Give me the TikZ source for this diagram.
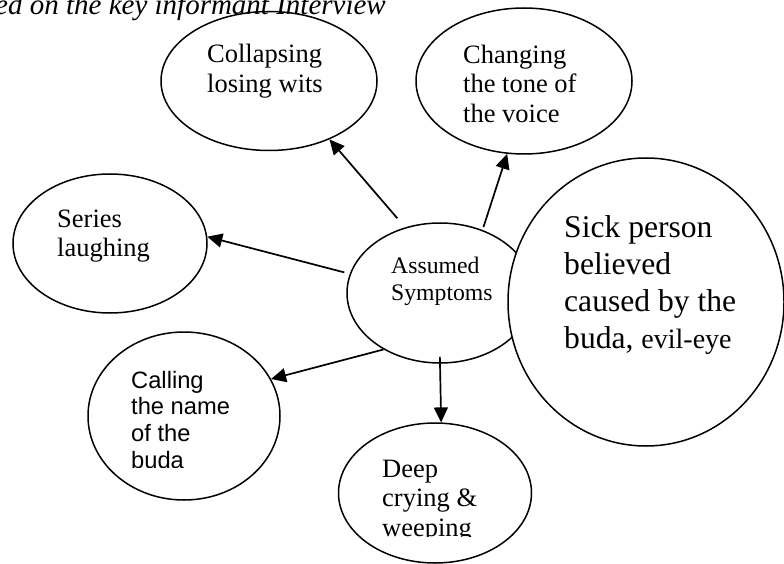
\documentclass[tikz,border=0pt]{standalone}
\usepackage{fontspec}
\setmainfont{Liberation Serif}
\newfontfamily\arialfont{Liberation Sans}
\usetikzlibrary{shapes.geometric,arrows.meta}
\newcommand{\tlines}[1]{\begin{tabular}[t]{@{}l@{}}#1\end{tabular}}
\begin{document}
\begin{tikzpicture}[x=1pt,y=-1pt,
  bubble/.style={ellipse,draw,line width=1.5pt,inner sep=0pt,fill=white},
  conn/.style={line width=1.7pt,-{Triangle[length=15pt,width=14pt]}},
  txt/.style={anchor=base west,inner sep=0pt},
  body/.style={font=\fontsize{26.5}{29.5}\selectfont},
]
\useasboundingbox (0,0) rectangle (784,564);
% ellipses
\node[bubble,minimum width=216pt,minimum height=139pt] (collapse) at (269,81) {};
\node[bubble,minimum width=216pt,minimum height=146pt] (change) at (524,81) {};
\node[bubble,minimum width=194pt,minimum height=139pt] (series) at (110,243.5) {};
\node[bubble,minimum width=186pt,minimum height=140pt] (assumed) at (440,293) {};
\node[bubble,minimum width=192pt,minimum height=168pt] (calling) at (184,416) {};
\node[bubble,minimum width=193pt,minimum height=140pt] (deep) at (435,493) {};
% connectors
\draw[conn,shorten <=12pt] (assumed.118.5) -- (collapse.-44.5);
\draw[conn,shorten <=3pt] (assumed.56) -- (change.257);
\draw[conn,shorten <=5.6pt] (assumed.168.3) -- (series.4.7);
\draw[conn] (assumed.225) -- (calling.23.5);
\draw[conn,shorten <=-7pt] (assumed.south) -- (deep.85.7);
% big circle
\node[bubble,minimum width=276pt,minimum height=288pt] (sick) at (646,302) {};
% title
\node[txt,font=\itshape\fontsize{29}{32}\selectfont] (title) at (-5,15) {ed on the key informant Interview};
% texts
\node[txt,body] (tcollapse) at (207,63) {\tlines{Collapsing\\losing wits}};
\node[txt,body] (tchange) at (463,63.5) {\tlines{Changing\\the tone of\\the voice}};
\node[txt,body] (tseries) at (57,227) {\tlines{Series\\laughing}};
\node[txt,font=\fontsize{23.7}{27}\selectfont] (tassumed) at (391,273) {\tlines{Assumed\\Symptoms}};
\node[txt,font=\fontsize{31.6}{37}\selectfont] (tsick) at (564,237) {\tlines{Sick person\\believed\\caused by the\\buda, {\fontsize{28}{37}\selectfont evil-eye}}};
\begin{scope}
\clip (100,360) rectangle (300,467);
\node[txt,font=\arialfont\fontsize{23.7}{26.7}\selectfont] (tcalling) at (131,388) {\tlines{Calling\\the name\\of the\\buda}};
\end{scope}
\begin{scope}
\clip (360,440) rectangle (520,536);
\node[txt,body] (tdeep) at (382,477) {\tlines{Deep\\crying \&\\weeping}};
\end{scope}
\end{tikzpicture}
\end{document}
